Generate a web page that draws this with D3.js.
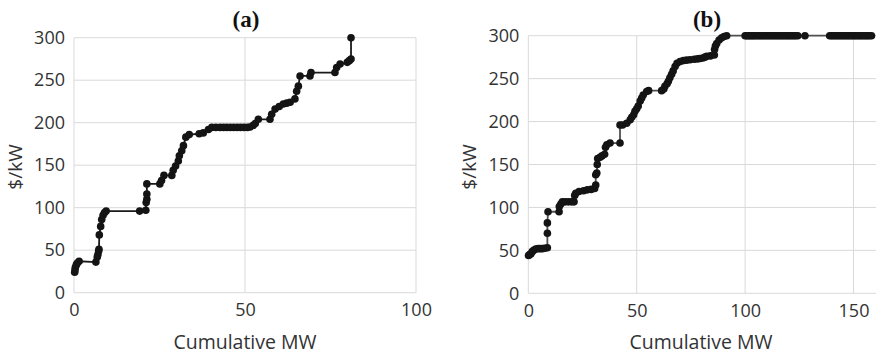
<!DOCTYPE html>
<html>
<head>
<meta charset="utf-8">
<script src="https://cdn.jsdelivr.net/npm/d3@7"></script>
<style>
  body { margin: 0; background: #fff; }
  svg { display: block; }
</style>
</head>
<body>
<div id="vis-tag"></div>
<script>
// (a) 数据：累计MW 与 $/kW
const aMW = [0.2, 0.3, 0.4, 0.7, 1.0, 1.5, 6.4, 6.8, 7.0, 7.2, 7.3, 7.4, 7.8, 8.1, 8.5, 8.9, 9.4,
  19.2, 21.0, 21.1, 21.3, 21.3, 21.3, 25.1, 25.6, 26.3, 28.6, 29.0, 29.7, 30.5, 30.8, 31.5, 32.0,
  32.7, 33.7, 36.6, 37.8, 39.3, 40.3, 41.5, 42.7, 43.7, 44.7, 45.7, 46.7, 47.7, 48.7, 49.7, 50.7,
  51.5, 52.4, 53.0, 53.9, 57.3, 57.8, 58.8, 60.0, 61.2, 62.2, 63.2, 64.6, 65.1, 65.6, 66.1, 69.0,
  69.3, 76.3, 76.8, 77.8, 79.9, 80.5, 81.0, 81.0];
const aPrice = [24, 27, 30, 33, 35, 37, 36, 42, 45, 49, 51, 68, 78, 86, 91, 94, 96,
  96, 97, 106, 110, 116, 128, 128, 132, 138, 138, 144, 149, 155, 161, 167, 173,
  183, 186, 187, 188, 192, 194.5, 194.5, 194.5, 194.5, 194.5, 194.5, 194.5, 194.5, 194.5, 194.5, 194.5,
  195, 197, 199, 204, 204, 210, 216, 219, 222, 223, 224, 228, 237, 243, 255, 255,
  259, 259, 265, 269, 271, 273, 275, 300];

// (b) 数据
const bMW = [0.1, 0.6, 1.2, 1.8, 2.5, 3.4, 4.5, 5.5, 6.5, 7.6, 8.8, 8.8, 8.8, 9.1, 14.2, 14.3, 15.0, 15.7,
  17.0, 18.5, 20.0, 21.1, 21.4, 21.9, 23.4, 25.5, 27.2, 29.0, 30.6, 31.1, 31.1, 31.6, 31.8, 32.0,
  33.1, 34.0, 35.2, 35.6, 36.2, 37.7, 42.3, 42.3, 43.5, 45.4, 47.0, 47.7, 48.6, 49.2, 50.0, 50.7,
  51.6, 52.3, 53.0, 54.6, 55.5, 61.5, 62.5, 63.0, 64.0, 64.6, 65.3, 66.1, 66.8, 67.7, 68.6, 70.0,
  71.5, 73.0, 74.6, 76.5, 78.0, 79.2, 80.5, 81.5, 82.3, 84.0, 85.8, 85.9, 86.3, 86.9, 88.0, 89.2,
  90.3, 91.5,
  100.0, 100.7, 101.4, 102.1, 102.8, 103.5, 104.2, 105.0, 105.8, 106.6, 107.4, 108.2, 109.0, 109.8,
  110.6, 111.4, 112.2, 113.0, 113.8, 114.6, 115.4, 116.2, 117.0, 117.8, 118.6, 119.4, 120.2, 121.0,
  121.8, 122.6, 123.4, 124.3, 127.6,
  139.0, 139.8, 140.6, 141.4, 142.2, 143.0, 143.8, 144.6, 145.4, 146.2, 147.0, 147.8, 148.6, 149.4,
  150.2, 151.0, 151.8, 152.6, 153.4, 154.2, 155.0, 155.8, 156.6, 157.4, 158.3];
const bPrice = [44, 45, 46, 48.5, 50, 51.5, 52, 52, 52, 52.5, 53, 70, 82, 95, 95, 101, 104, 106.5,
  106.5, 106.5, 106.5, 106.5, 114, 116.5, 118.5, 119.5, 120.5, 121, 122, 126, 138, 140, 150, 157,
  158.5, 160, 162, 170, 173, 175, 175, 196, 196, 198, 202, 205, 208, 212, 215, 218,
  224, 227.5, 231, 235, 236, 236, 238, 241, 244, 247, 251, 255, 259, 264, 268, 270,
  271, 271.5, 272, 272.5, 273, 273.5, 274, 275, 276, 276.5, 277.5, 284, 288, 291, 295, 297.5,
  299, 300,
  300, 300, 300, 300, 300, 300, 300, 300, 300, 300, 300, 300, 300, 300,
  300, 300, 300, 300, 300, 300, 300, 300, 300, 300, 300, 300, 300, 300,
  300, 300, 300, 300, 300,
  300, 300, 300, 300, 300, 300, 300, 300, 300, 300, 300, 300, 300, 300,
  300, 300, 300, 300, 300, 300, 300, 300, 300, 300, 300];

// 刻度
const yTicks = [0, 50, 100, 150, 200, 250, 300];
const aXTicks = [0, 50, 100];
const bXTicks = [0, 50, 100, 150];

const width = 876;
const height = 355;

const svg = d3.select("#vis-tag")
  .append("svg")
  .attr("width", width)
  .attr("height", height);

const tickFont = "'Open Sans', sans-serif";

function drawPanel(opt) {
  const x = d3.scaleLinear().domain(opt.xDomain).range(opt.xRange);
  const y = d3.scaleLinear().domain([0, 300]).range(opt.yRange);
  const g = svg.append("g");

  // 网格线
  g.selectAll(".hgrid").data(yTicks).enter().append("line")
    .attr("x1", opt.xRange[0]).attr("x2", opt.gridRight)
    .attr("y1", d => y(d)).attr("y2", d => y(d))
    .attr("stroke", "#d9d9d9").attr("stroke-width", 1);
  g.selectAll(".vgrid").data(opt.xTicks).enter().append("line")
    .attr("x1", d => x(d)).attr("x2", d => x(d))
    .attr("y1", y(0)).attr("y2", y(300))
    .attr("stroke", "#d9d9d9").attr("stroke-width", 1);

  // 坐标轴（只用刻度文字）
  const yAxis = g.append("g")
    .attr("transform", `translate(${opt.xRange[0]},0)`)
    .call(d3.axisLeft(y).tickValues(yTicks).tickSize(0).tickPadding(9));
  const xAxis = g.append("g")
    .attr("transform", `translate(0,${y(0)})`)
    .call(d3.axisBottom(x).tickValues(opt.xTicks).tickSize(0).tickPadding(11));
  [yAxis, xAxis].forEach(a => {
    a.select(".domain").remove();
    a.selectAll("text")
      .attr("font-family", tickFont)
      .attr("font-size", 18)
      .attr("fill", "#333");
  });

  // 曲线
  const pts = opt.mw.map((m, i) => [m, opt.price[i]]);
  const line = d3.line().x(d => x(d[0])).y(d => y(d[1]));
  g.append("path")
    .datum(pts)
    .attr("d", line)
    .attr("fill", "none")
    .attr("stroke", opt.lineColor)
    .attr("stroke-width", 1.8);
  g.selectAll("circle").data(pts).enter().append("circle")
    .attr("cx", d => x(d[0]))
    .attr("cy", d => y(d[1]))
    .attr("r", 3.8)
    .attr("fill", "#141414");

  // 标题
  svg.append("text")
    .attr("x", opt.titleX).attr("y", 27)
    .attr("text-anchor", "middle")
    .attr("font-family", "'Liberation Serif', 'Times New Roman', serif")
    .attr("font-weight", "bold")
    .attr("font-size", 23)
    .attr("fill", "#111")
    .text(opt.title);

  // 轴标签
  svg.append("text")
    .attr("x", opt.xLabelX).attr("y", 349)
    .attr("text-anchor", "middle")
    .attr("font-family", tickFont)
    .attr("font-size", 19.5)
    .attr("fill", "#333")
    .text("Cumulative MW");
  svg.append("text")
    .attr("transform", `translate(${opt.yLabelX},167) rotate(-90)`)
    .attr("text-anchor", "middle")
    .attr("dy", "0.35em")
    .attr("font-family", tickFont)
    .attr("font-size", 19)
    .attr("fill", "#333")
    .text("$/kW");
}

drawPanel({
  mw: aMW, price: aPrice,
  xDomain: [0, 100], xRange: [74, 416], gridRight: 416,
  yRange: [292.7, 37.7], xTicks: aXTicks,
  lineColor: "#1a1a1a",
  title: "(a)", titleX: 246, xLabelX: 245, yLabelX: 15
});

drawPanel({
  mw: bMW, price: bPrice,
  xDomain: [0, 160], xRange: [528.3, 875.2], gridRight: 876,
  yRange: [293.3, 35.7], xTicks: bXTicks,
  lineColor: "#505050",
  title: "(b)", titleX: 707, xLabelX: 701, yLabelX: 469
});
</script>
</body>
</html>
